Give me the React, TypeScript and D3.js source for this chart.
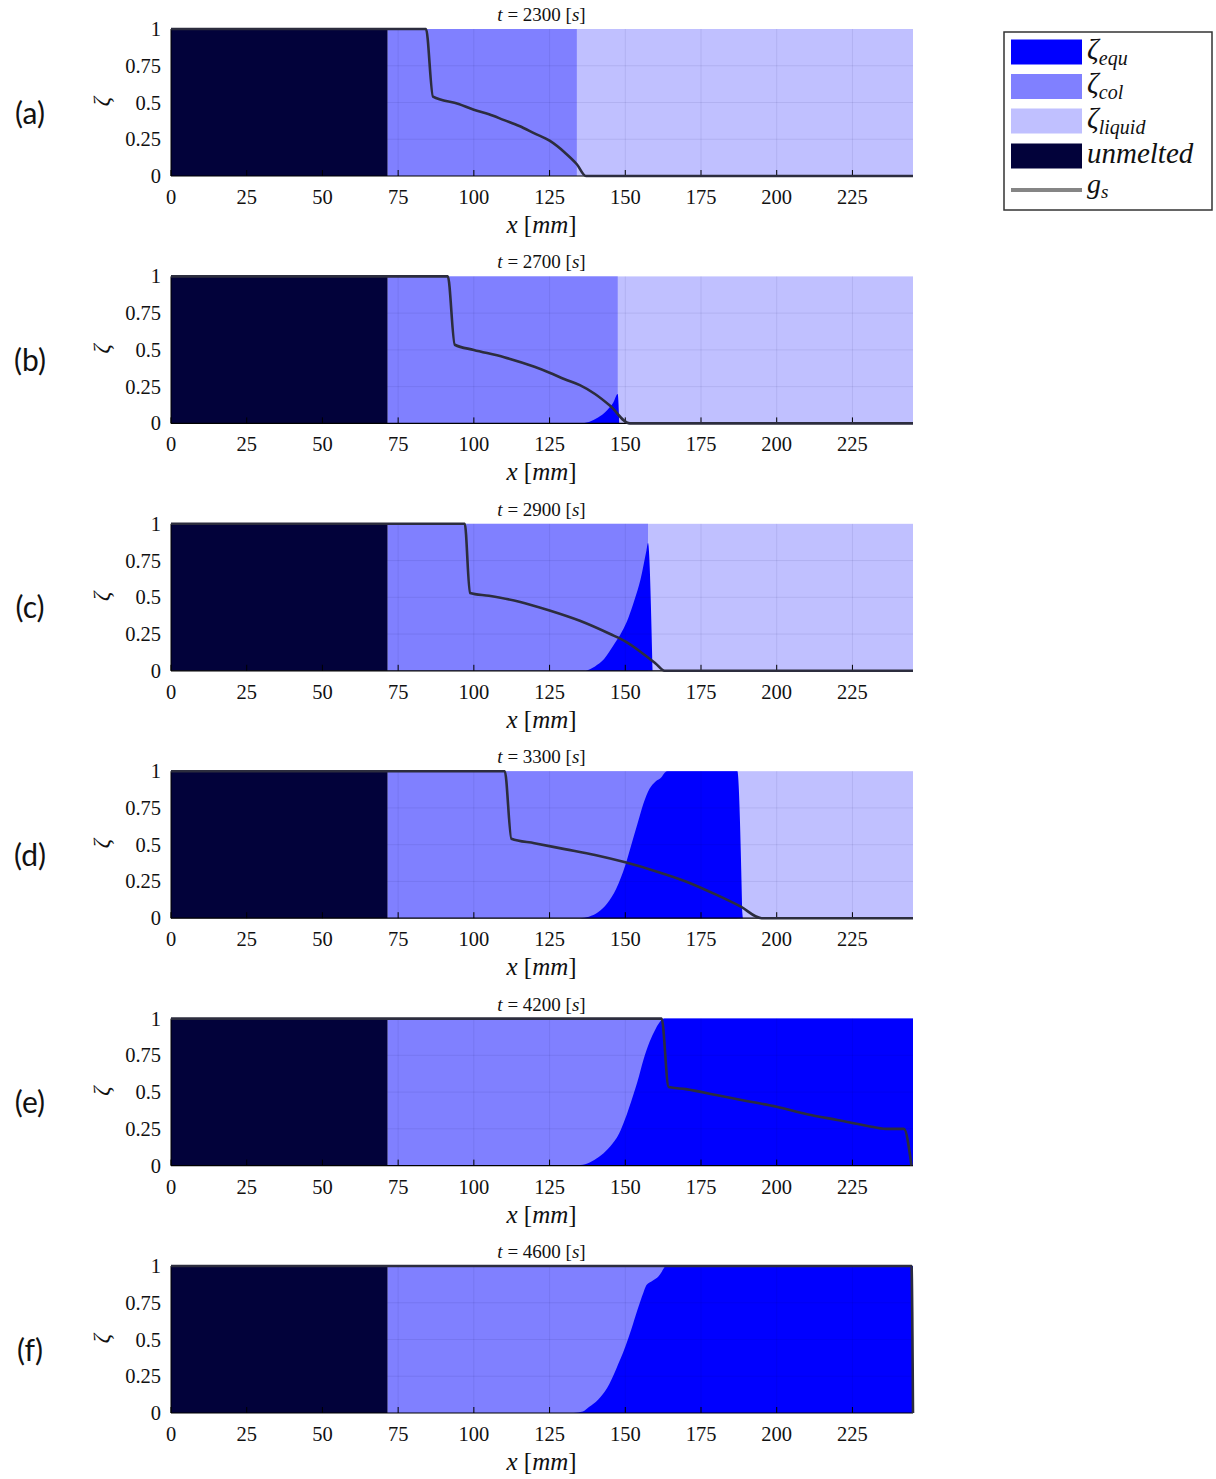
import React from "react";
import * as d3 from "d3";

// ---------- data ----------
const panelLabels = ["(a)", "(b)", "(c)", "(d)", "(e)", "(f)"];
const times = [2300, 2700, 2900, 3300, 4200, 4600];
const xTicks = [0, 25, 50, 75, 100, 125, 150, 175, 200, 225];
const yTicks = [0, 0.25, 0.5, 0.75, 1];
const yTickLabels = ["0", "0.25", "0.5", "0.75", "1"];
const unmeltedEdge = [71.5, 71.5, 71.5, 71.5, 71.5, 71.5];
// x where columnar zone ends and liquid starts (null = no liquid left)
const colFront = [134, 147.5, 157.5, 187, null, null];

// zeta_equ profiles [x (mm), value]
const equA: [number, number][] = [];
const equB: [number, number][] = [
  [135, 0], [138, 0.01], [141, 0.04], [144, 0.09], [146, 0.14], [147.5, 0.2], [148, 0],
];
const equC: [number, number][] = [
  [137, 0], [140, 0.03], [143, 0.08], [146, 0.17], [149, 0.27], [151, 0.36], [153, 0.48],
  [155, 0.62], [157, 0.82], [157.5, 0.87], [159, 0],
];
const equD: [number, number][] = [
  [135, 0], [138, 0.01], [141, 0.04], [144, 0.1], [147, 0.2], [150, 0.36], [152, 0.5],
  [154, 0.64], [156, 0.78], [158, 0.88], [160, 0.93], [162, 0.96], [163, 0.99], [164, 1],
  [187, 1], [188.8, 0],
];
const equE: [number, number][] = [
  [133, 0], [136, 0.005], [139, 0.03], [142, 0.07], [145, 0.13], [148, 0.22], [150, 0.32],
  [152, 0.44], [154, 0.57], [156, 0.72], [158, 0.84], [160, 0.93], [162, 0.99], [163, 1],
  [245, 1],
];
const equF: [number, number][] = [
  [133, 0], [136, 0.01], [138, 0.04], [141, 0.09], [144, 0.17], [147, 0.3], [150, 0.45],
  [152, 0.57], [154, 0.7], [156, 0.82], [157, 0.87], [159, 0.9], [161, 0.93], [162, 0.96],
  [163.5, 1], [245, 1],
];
const equProfiles = [equA, equB, equC, equD, equE, equF];

// g_s profiles [x (mm), value]
const gsA: [number, number][] = [
  [0, 1], [84.2, 1], [86.5, 0.54], [95, 0.49], [100, 0.45], [105, 0.42], [110, 0.38],
  [115, 0.34], [120, 0.29], [125, 0.24], [130, 0.16], [134, 0.08], [137, 0], [245, 0],
];
const gsB: [number, number][] = [
  [0, 1], [91.4, 1], [93.7, 0.535], [100, 0.5], [110, 0.45], [120, 0.385], [125, 0.345],
  [130, 0.3], [135, 0.26], [140, 0.2], [145, 0.12], [151.5, 0], [245, 0],
];
const gsC: [number, number][] = [
  [0, 1], [97, 1], [98.7, 0.53], [105, 0.51], [115, 0.47], [125, 0.41], [135, 0.34],
  [145, 0.25], [150, 0.2], [155, 0.13], [160, 0.05], [163, 0], [245, 0],
];
const gsD: [number, number][] = [
  [0, 1], [110.2, 1], [112.4, 0.54], [120, 0.51], [130, 0.47], [140, 0.43], [150, 0.38],
  [160, 0.32], [170, 0.25], [180, 0.16], [188, 0.08], [195, 0], [245, 0],
];
const gsE: [number, number][] = [
  [0, 1], [162, 1], [164.3, 0.535], [170, 0.52], [180, 0.48], [190, 0.44], [200, 0.4],
  [210, 0.35], [220, 0.31], [230, 0.27], [236, 0.25], [242, 0.25], [244.5, 0],
];
const gsF: [number, number][] = [[0, 1], [244.5, 1], [245, 0]];
const gsProfiles = [gsA, gsB, gsC, gsD, gsE, gsF];

const legendKeys = ["equ", "col", "liquid", "unmelted", "gs"];

// ---------- styles ----------
const C_EQU = "#0000ff";
const C_COL = "#8080ff";
const C_LIQ = "#c0c0ff";
const C_UNM = "#02023a";
const C_GS = "#2c2d3e";
const SERIF = "Liberation Serif, Times New Roman, DejaVu Serif, serif";

const W = 1216;
const H = 1479;
const PLOT_L = 171;
const PLOT_R = 913;
const PLOT_H = 147;
const FIRST_TOP = 29;
const STEP = 247.4;

const x = d3.scaleLinear().domain([0, 245]).range([PLOT_L, PLOT_R]);

function Panel({ i }: { i: number }) {
  const top = FIRST_TOP + i * STEP;
  const y = d3.scaleLinear().domain([0, 1]).range([top + PLOT_H, top]);
  const area = d3
    .area<[number, number]>()
    .x((d) => x(d[0]))
    .y0(y(0))
    .y1((d) => y(d[1]))
    .curve(d3.curveMonotoneX);
  const line = d3
    .line<[number, number]>()
    .x((d) => x(d[0]))
    .y((d) => y(d[1]))
    .curve(d3.curveMonotoneX);
  const ue = unmeltedEdge[i];
  const cf = colFront[i] ?? 245;
  const equ = equProfiles[i];
  const mid = top + PLOT_H / 2;
  const txt = { fontFamily: SERIF };
  return (
    <g>
      {/* liquid */}
      <rect x={x(ue)} y={y(1)} width={x(245) - x(ue)} height={y(0) - y(1)} fill={C_LIQ} />
      {/* columnar */}
      <rect x={x(ue)} y={y(1)} width={x(cf) - x(ue)} height={y(0) - y(1)} fill={C_COL} />
      {/* equiaxed */}
      {equ.length > 0 && <path d={area(equ) || ""} fill={C_EQU} />}
      {/* grid */}
      {xTicks.slice(1).map((t) => (
        <line key={"gx" + t} x1={x(t)} x2={x(t)} y1={y(0)} y2={y(1)} stroke="#000050" strokeOpacity={0.08} strokeWidth={1} />
      ))}
      {yTicks.slice(1, 4).map((t) => (
        <line key={"gy" + t} x1={x(0)} x2={x(245)} y1={y(t)} y2={y(t)} stroke="#000050" strokeOpacity={0.08} strokeWidth={1} />
      ))}
      {/* unmelted */}
      <rect x={x(0)} y={y(1)} width={x(ue) - x(0)} height={y(0) - y(1)} fill={C_UNM} />
      {/* axis */}
      <line x1={x(0)} x2={x(245)} y1={y(0)} y2={y(0)} stroke="#000" strokeWidth={1.2} />
      <line x1={x(0)} x2={x(0)} y1={y(0)} y2={y(1)} stroke="#000" strokeWidth={1} />
      {xTicks.map((t) => (
        <line key={"tx" + t} x1={x(t)} x2={x(t)} y1={y(0)} y2={y(0) - 6} stroke="#000" strokeWidth={1} />
      ))}
      {/* g_s */}
      <path d={line(gsProfiles[i]) || ""} fill="none" stroke={C_GS} strokeWidth={2.6} strokeLinejoin="round" />
      {/* tick labels */}
      {xTicks.map((t) => (
        <text key={"lx" + t} x={x(t)} y={y(0) + 28} textAnchor="middle" style={txt} fontSize={20.5} fill="#111">
          {t}
        </text>
      ))}
      {yTicks.map((t, k) => (
        <text key={"ly" + t} x={161} y={y(t) + 7} textAnchor="end" style={txt} fontSize={20.5} fill="#111">
          {yTickLabels[k]}
        </text>
      ))}
      {/* title */}
      <text x={(PLOT_L + 912) / 2} y={top - 8} textAnchor="middle" style={txt} fontSize={19} fill="#111">
        <tspan fontStyle="italic">t</tspan>
        <tspan> = {times[i]} [</tspan>
        <tspan fontStyle="italic">s</tspan>
        <tspan>]</tspan>
      </text>
      {/* x label */}
      <text x={(PLOT_L + 912) / 2} y={y(0) + 57} textAnchor="middle" style={txt} fontSize={25} fill="#111">
        <tspan fontStyle="italic">x</tspan>
        <tspan> [</tspan>
        <tspan fontStyle="italic">mm</tspan>
        <tspan>]</tspan>
      </text>
      {/* y label */}
      <text x={0} y={0} transform={`translate(109, ${mid - 1}) rotate(-90)`} textAnchor="middle" style={txt} fontSize={23} fontStyle="italic" fill="#111">
        ζ
      </text>
      {/* panel label */}
      <text x={30} y={mid + 21} textAnchor="middle" fontFamily="Lato, Open Sans, sans-serif" fontSize={30} fill="#111">
        {panelLabels[i]}
      </text>
    </g>
  );
}

function Legend() {
  const lx = 1004;
  const ly = 32;
  const sx = 1011;
  const sw = 71;
  const rows = [39.5, 74, 108.5, 143.5];
  const fills = [C_EQU, C_COL, C_LIQ, C_UNM];
  const tx = 1087;
  const txt = { fontFamily: SERIF };
  return (
    <g>
      <rect x={lx} y={ly} width={208} height={178} fill="#fff" stroke="#333" strokeWidth={1.5} />
      {rows.map((r, k) => (
        <rect key={legendKeys[k]} x={sx} y={r} width={sw} height={25} fill={fills[k]} />
      ))}
      <line x1={sx} x2={sx + sw} y1={190} y2={190} stroke="#858585" strokeWidth={4} />
      {["equ", "col", "liquid"].map((s, k) => (
        <text key={s} x={tx} y={rows[k] + 19} style={txt} fontSize={29} fontStyle="italic" fill="#111">
          <tspan>ζ</tspan>
          <tspan dy={6} fontSize={20}>{s}</tspan>
        </text>
      ))}
      <text x={tx} y={rows[3] + 19} style={txt} fontSize={29} fontStyle="italic" fill="#111">
        unmelted
      </text>
      <text x={tx} y={193} style={txt} fontSize={28} fontStyle="italic" fill="#111">
        <tspan>g</tspan>
        <tspan dy={5} fontSize={19}>s</tspan>
      </text>
    </g>
  );
}

export default function App() {
  return (
    <svg width={W} height={H} style={{ position: "absolute", left: 0, top: 0, background: "#fff" }}>
      <rect x={0} y={0} width={W} height={H} fill="#fff" />
      {panelLabels.map((_, i) => (
        <Panel key={i} i={i} />
      ))}
      <Legend />
    </svg>
  );
}
